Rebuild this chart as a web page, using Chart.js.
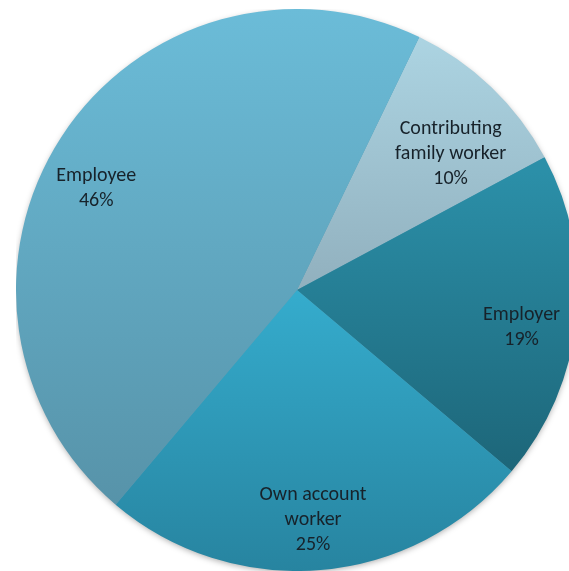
<!DOCTYPE html>
<html>
<head>
<meta charset="utf-8">
<script src="https://cdn.jsdelivr.net/npm/chart.js@4"></script>
<style>
  html, body { margin: 0; padding: 0; background: #fff; overflow: hidden; width: 569px; height: 571px; }
  #wrap { position: absolute; left: 16px; top: 9px; width: 562px; height: 562px; }
</style>
</head>
<body>
<div id="wrap"><canvas id="pie"></canvas></div>
<script>
// status in employment, share of total (%)
const categories = ['Contributing family worker', 'Employer', 'Own account worker', 'Employee'];
const labelLines = [['Contributing', 'family worker'], ['Employer'], ['Own account', 'worker'], ['Employee']];
const shares = [10, 19, 25, 46];

// vertical gradient per slice: [top colour, bottom colour, top frac, bottom frac]
const sliceFills = [
  ['#acd4e2', '#91b0be', 0.05, 0.5],
  ['#2b8fa8', '#1d6679', 0.29, 0.82],
  ['#35accd', '#2784a0', 0.5, 1.0],
  ['#6bbcd8', '#5793a9', 0.0, 0.88],
];
// label placement: fraction of radius, angle nudge (deg)
const labelRadius = [0.73, 0.81, 0.82, 0.8];
const labelNudge = [4.7, 3.4, 0.8, -6.3];

const fillFor = (ctx) => {
  const [top, bottom, f0, f1] = sliceFills[ctx.dataIndex];
  const area = ctx.chart.chartArea;
  if (!area) return top;
  const h = area.bottom - area.top;
  const g = ctx.chart.ctx.createLinearGradient(0, area.top + h * f0, 0, area.top + h * f1);
  g.addColorStop(0, top);
  g.addColorStop(1, bottom);
  return g;
};

const softShadow = {
  id: 'softShadow',
  beforeDatasetsDraw(chart) {
    const arc = chart.getDatasetMeta(0).data[0];
    if (!arc) return;
    const {x, y, outerRadius} = arc.getProps(['x', 'y', 'outerRadius'], true);
    const c = chart.ctx;
    c.save();
    c.shadowColor = 'rgba(0, 0, 0, 0.35)';
    c.shadowBlur = 6;
    c.shadowOffsetY = 2;
    c.fillStyle = '#5a9ab0';
    c.beginPath();
    c.arc(x, y, outerRadius - 1, 0, Math.PI * 2);
    c.fill();
    c.restore();
  }
};

const sliceLabels = {
  id: 'sliceLabels',
  afterDatasetsDraw(chart) {
    const c = chart.ctx;
    const meta = chart.getDatasetMeta(0);
    c.save();
    c.font = '20px Calibri, Carlito, Lato, sans-serif';
    c.fillStyle = '#17222a';
    c.textAlign = 'center';
    c.textBaseline = 'middle';
    meta.data.forEach((arc, i) => {
      const {x, y, startAngle, endAngle, outerRadius} =
        arc.getProps(['x', 'y', 'startAngle', 'endAngle', 'outerRadius'], true);
      const mid = (startAngle + endAngle) / 2 + labelNudge[i] * Math.PI / 180;
      const r = outerRadius * labelRadius[i];
      const cx = x + Math.cos(mid) * r;
      const cy = y + Math.sin(mid) * r;
      const lines = [...labelLines[i], shares[i] + '%'];
      const lh = 25;
      lines.forEach((t, k) => c.fillText(t, cx, cy + (k - (lines.length - 1) / 2) * lh));
    });
    c.restore();
  }
};

new Chart(document.getElementById('pie'), {
  type: 'pie',
  data: {
    labels: categories,
    datasets: [{
      data: shares,
      backgroundColor: fillFor,
      borderWidth: 0,
      hoverOffset: 0,
    }]
  },
  options: {
    animation: false,
    responsive: true,
    maintainAspectRatio: false,
    rotation: 25.8,
    layout: {padding: 0},
    plugins: {
      legend: {display: false},
      tooltip: {enabled: false},
    }
  },
  plugins: [softShadow, sliceLabels]
});
</script>
</body>
</html>
